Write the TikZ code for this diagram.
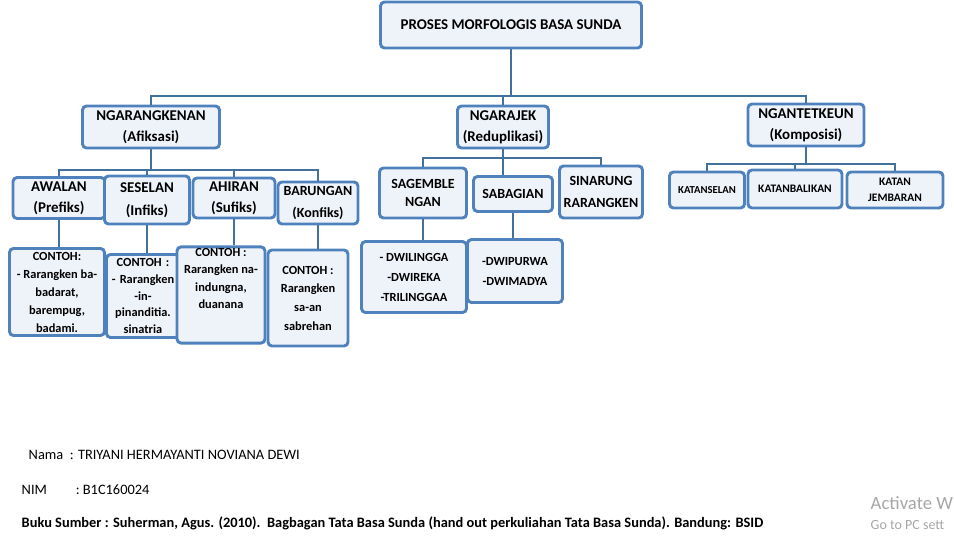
\documentclass[tikz,border=0pt]{standalone}
\usepackage{fontspec}
\setmainfont{Carlito}
\definecolor{boxblue}{HTML}{4F81BD}
\definecolor{linec}{HTML}{41719C}
\definecolor{boxfill}{HTML}{EEF2F9}
\begin{document}
\begin{tikzpicture}[x=0.75pt,y=-0.75pt,
  bx/.style={draw=boxblue,line width=2.2pt,rounded corners=3pt,fill=boxfill,align=center,inner sep=1pt},
  ln/.style={draw=linec,line width=2.2pt}]
\useasboundingbox (0,0) rectangle (954,543);
\node[bx,minimum width=261*0.75pt,minimum height=46*0.75pt,font=\bfseries\fontsize{11.2}{13}\selectfont] (title) at (511,25) {PROSES MORFOLOGIS BASA SUNDA};
\node[bx,minimum width=137*0.75pt,minimum height=42*0.75pt,font=\bfseries\fontsize{11.2}{16}\selectfont] (ngarang) at (151,127) {NGARANGKENAN\\(Afiksasi)};
\node[bx,minimum width=91*0.75pt,minimum height=42*0.75pt,font=\bfseries\fontsize{11.2}{16}\selectfont] (ngarajek) at (503,127) {NGARAJEK\\(Reduplikasi)};
\node[bx,minimum width=116*0.75pt,minimum height=42*0.75pt,font=\bfseries\fontsize{11.2}{16}\selectfont] (ngantet) at (806,125) {NGANTETKEUN\\(Komposisi)};
\node[bx,minimum width=92*0.75pt,minimum height=41*0.75pt,font=\bfseries\fontsize{11.2}{16}\selectfont] (awalan) at (59,198) {AWALAN\\(Prefiks)};
\node[bx,minimum width=85*0.75pt,minimum height=48*0.75pt,font=\bfseries\fontsize{11.2}{17}\selectfont] (seselan) at (147,200) {SESELAN\\(Infiks)};
\node[bx,minimum width=82*0.75pt,minimum height=40*0.75pt,font=\bfseries\fontsize{11.2}{16}\selectfont] (ahiran) at (234,198) {AHIRAN\\(Sufiks)};
\node[bx,minimum width=80*0.75pt,minimum height=42*0.75pt,font=\bfseries\fontsize{10.5}{16}\selectfont] (barungan) at (318,203) {BARUNGAN\\(Konfiks)};
\node[bx,minimum width=95*0.75pt,minimum height=87*0.75pt,font=\bfseries\fontsize{9.3}{13.5}\selectfont] (c1) at (57,292) {CONTOH:\\- Rarangken ba-\\badarat,\\barempug,\\badami.};
\node[bx,minimum width=73*0.75pt,minimum height=83*0.75pt,text width=68*0.75pt,font=\bfseries\fontsize{9.3}{12.5}\selectfont] (c2) at (143,296) {CONTOH :\\- Rarangken\\-in-\\pinanditia.\\sinatria};
\node[bx,minimum width=88*0.75pt,minimum height=94*0.75pt,font=\bfseries\fontsize{9.3}{13}\selectfont] (c3) at (221,295) {CONTOH :\\Rarangken na-\\indungna,\\duanana\\[12pt]};
\node[bx,minimum width=80*0.75pt,minimum height=96*0.75pt,font=\bfseries\fontsize{9.3}{14}\selectfont] (c4) at (308,298) {CONTOH :\\Rarangken\\sa-an\\sabrehan};
\node[bx,minimum width=87*0.75pt,minimum height=50*0.75pt,font=\bfseries\fontsize{10.5}{13}\selectfont] (sagem) at (423,193) {SAGEMBLE\\NGAN};
\node[bx,minimum width=79*0.75pt,minimum height=35*0.75pt,font=\bfseries\fontsize{10.5}{13}\selectfont] (sabag) at (513,194) {SABAGIAN};
\node[bx,minimum width=83*0.75pt,minimum height=52*0.75pt,font=\bfseries\fontsize{10.5}{16}\selectfont] (sinar) at (601,192) {SINARUNG\\RARANGKEN};
\node[bx,minimum width=105*0.75pt,minimum height=71*0.75pt,font=\bfseries\fontsize{9.3}{15}\selectfont] (dwil) at (414,277) {- DWILINGGA\\-DWIREKA\\-TRILINGGAA};
\node[bx,minimum width=95*0.75pt,minimum height=63*0.75pt,font=\bfseries\fontsize{9.3}{15}\selectfont] (dwip) at (515,271) {-DWIPURWA\\-DWIMADYA};
\node[bx,minimum width=75*0.75pt,minimum height=36*0.75pt,font=\bfseries\fontsize{8}{10}\selectfont] (kse) at (707,190) {KATANSELAN};
\node[bx,minimum width=94*0.75pt,minimum height=38*0.75pt,font=\bfseries\fontsize{8.6}{10}\selectfont] (kba) at (795,189) {KATANBALIKAN};
\node[bx,minimum width=96*0.75pt,minimum height=36*0.75pt,font=\bfseries\fontsize{8.6}{12}\selectfont] (kje) at (895,190) {KATAN\\JEMBARAN};
% connectors
\draw[ln] (title.south) -- (title.south |- 0,96);
\draw[ln] (ngarang.north) -- (ngarang.north |- 0,96) -| (ngantet.north);
\draw[ln] (ngarajek.north) -- (ngarajek.north |- 0,96);
\draw[ln] (ngarang.south) -- (ngarang.south |- 0,170);
\draw[ln] (awalan.north) -- (awalan.north |- 0,170) -| (barungan.north);
\draw[ln] (seselan.north) -- (seselan.north |- 0,170);
\draw[ln] (ahiran.north) -- (ahiran.north |- 0,170);
\draw[ln] (awalan.south) -- (c1.north -| awalan.south);
\draw[ln] (seselan.south) -- (c2.north -| seselan.south);
\draw[ln] (ahiran.south) -- (c3.north -| ahiran.south);
\draw[ln] (barungan.south) -- (c4.north -| barungan.south);
\draw[ln] (ngarajek.south) -- (sabag.north -| ngarajek.south);
\draw[ln] (sagem.north) -- (sagem.north |- 0,158) -| (sinar.north);
\draw[ln] (sagem.south) -- (dwil.north -| sagem.south);
\draw[ln] (sabag.south) -- (dwip.north -| sabag.south);
\draw[ln] (ngantet.south) -- (ngantet.south |- 0,164);
\draw[ln] (kse.north) -- (kse.north |- 0,164) -| (kje.north);
\draw[ln] (kba.north) -- (kba.north |- 0,164);
% footer
\node[anchor=west,font=\fontsize{10.8}{13}\selectfont] (nama) at (24,455) {Nama\ \ : TRIYANI HERMAYANTI NOVIANA DEWI};
\node[anchor=west,font=\fontsize{10.8}{13}\selectfont] (nim) at (17,490) {NIM\qquad: B1C160024};
\node[anchor=west,font=\bfseries\fontsize{10.8}{13}\selectfont] (buku) at (17,523) {Buku Sumber : Suherman, Agus. (2010).\ \ Bagbagan Tata Basa Sunda (hand out perkuliahan Tata Basa Sunda). Bandung: BSID};
\node[anchor=west,text=gray!70,font=\fontsize{14}{16}\selectfont] (act) at (866,503) {Activate W};
\node[anchor=west,text=gray!70,font=\fontsize{10.5}{12}\selectfont] (go) at (866,525) {Go to PC sett};
\end{tikzpicture}
\end{document}
